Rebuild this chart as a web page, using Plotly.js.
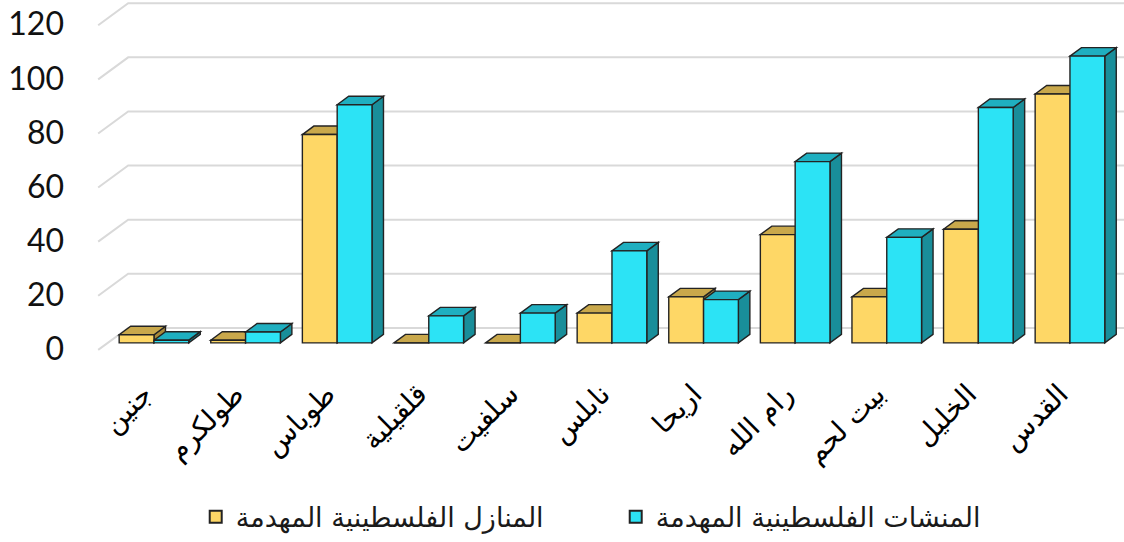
<!DOCTYPE html>
<html>
<head>
<meta charset="utf-8">
<script src="https://cdn.plot.ly/plotly-3.0.1.min.js"></script>
<style>
  html, body { margin: 0; padding: 0; background: #ffffff; }
  #chart { width: 1124px; height: 542px; }
</style>
</head>
<body>
<div id="chart"></div>
<script>
// Governorates (left to right)
const categories = ['جنين', 'طولكرم', 'طوباس', 'قلقيلية', 'سلفيت', 'نابلس', 'اريحا', 'رام الله', 'بيت لحم', 'الخليل', 'القدس'];
// Demolished Palestinian homes
const houses = [3, 1, 77, 0, 0, 11, 17, 40, 17, 42, 92];
// Demolished Palestinian facilities
const facilities = [1, 4, 88, 10, 11, 34, 16, 67, 39, 87, 106];
const seriesNames = ['المنازل الفلسطينية المهدمة', 'المنشات الفلسطينية المهدمة'];
const yTicks = [0, 20, 40, 60, 80, 100, 120];

// ---- layout geometry ----
const W = 1124, H = 542;
const margin = { l: 96, r: 0, t: 2, b: 191, pad: 0 };
const xRange = [-0.633, 10.59];
const yRange = [-3, 126];
const plotW = W - margin.l - margin.r;
const plotH = H - margin.t - margin.b;
const pxPerX = plotW / (xRange[1] - xRange[0]);
const pxPerY = plotH / (yRange[1] - yRange[0]);
const ux = px => px / pxPerX;   // pixels -> category units
const uy = px => px / pxPerY;   // pixels -> value units

const bargap = 0.24;
const barW = (1 - bargap) / 2;

// oblique depth of a bar, of the back wall and of the floor front edge
const bar = { dx: ux(11.5), dy: uy(8.5) };
const wall = { dx: ux(20), dy: uy(15) };
const floorFront = { dx: ux(-10), dy: uy(-7) };

const colors = {
  yellow: { front: '#FED766', top: '#C9A84B', side: '#A8893A' },
  cyan:   { front: '#2CE3F5', top: '#1FAFC0', side: '#198E9A' }
};
const edge = '#232323';

function path(pts) {
  return 'M' + pts.map(p => p[0].toFixed(4) + ',' + p[1].toFixed(4)).join('L') + 'Z';
}
function line(pts) {
  return 'M' + pts.map(p => p[0].toFixed(4) + ',' + p[1].toFixed(4)).join('L');
}

const shapes = [];

// back-wall gridlines with the diagonal running to the floor front
const wallLeft = -0.5 + wall.dx;
yTicks.forEach(v => {
  shapes.push({
    type: 'path', xref: 'x', yref: 'y', layer: 'below',
    path: line([[-0.5 + floorFront.dx, v + floorFront.dy], [wallLeft, v + wall.dy], [xRange[1], v + wall.dy]]),
    line: { color: '#D9D9D9', width: 2 }
  });
});

// top and side faces of every bar, drawn yellow then cyan per category
function faces(x0, x1, v, c) {
  shapes.push({
    type: 'path', xref: 'x', yref: 'y', layer: 'below',
    path: path([[x1, 0], [x1, v], [x1 + bar.dx, v + bar.dy], [x1 + bar.dx, bar.dy]]),
    fillcolor: c.side, line: { color: edge, width: 1.4 }
  });
  shapes.push({
    type: 'path', xref: 'x', yref: 'y', layer: 'below',
    path: path([[x0, v], [x1, v], [x1 + bar.dx, v + bar.dy], [x0 + bar.dx, v + bar.dy]]),
    fillcolor: c.top, line: { color: edge, width: 1.4 }
  });
}
categories.forEach((cat, i) => {
  faces(i - barW, i, houses[i], colors.yellow);
  faces(i, i + barW, facilities[i], colors.cyan);
});

const traces = [
  {
    type: 'bar', name: seriesNames[0], x: categories, y: houses,
    marker: { color: colors.yellow.front, line: { color: edge, width: 1.4 } },
    hoverinfo: 'x+y'
  },
  {
    type: 'bar', name: seriesNames[1], x: categories, y: facilities,
    marker: { color: colors.cyan.front, line: { color: edge, width: 1.4 } },
    hoverinfo: 'x+y'
  }
];

const layout = {
  width: W, height: H,
  margin: margin,
  paper_bgcolor: '#ffffff', plot_bgcolor: 'rgba(0,0,0,0)',
  barmode: 'group', bargap: bargap, bargroupgap: 0,
  showlegend: true,
  legend: {
    orientation: 'h', x: 0.097, xanchor: 'left', y: -0.476, yanchor: 'middle',
    font: { family: 'DejaVu Sans, sans-serif', size: 27, color: '#1a1a1a' },
    entrywidth: 375, entrywidthmode: 'pixels',
    itemsizing: 'constant'
  },
  xaxis: {
    type: 'category', range: xRange, fixedrange: true,
    showgrid: false, zeroline: false, showline: false, ticks: '',
    tickangle: -45, ticklabelstandoff: 20, ticklabelshift: -10,
    tickfont: { family: 'DejaVu Sans, sans-serif', size: 28, color: '#000000' }
  },
  yaxis: {
    range: yRange, fixedrange: true,
    tickvals: yTicks, ticktext: yTicks.map(String),
    showgrid: false, zeroline: false, showline: false, ticks: '',
    ticklabelstandoff: 31, ticklabelshift: 6, ticklabeloverflow: 'allow',
    tickfont: { family: 'Lato, sans-serif', size: 32, color: '#111111' }
  },
  shapes: shapes
};

Plotly.newPlot('chart', traces, layout, { displayModeBar: false, staticPlot: true });
</script>
</body>
</html>
